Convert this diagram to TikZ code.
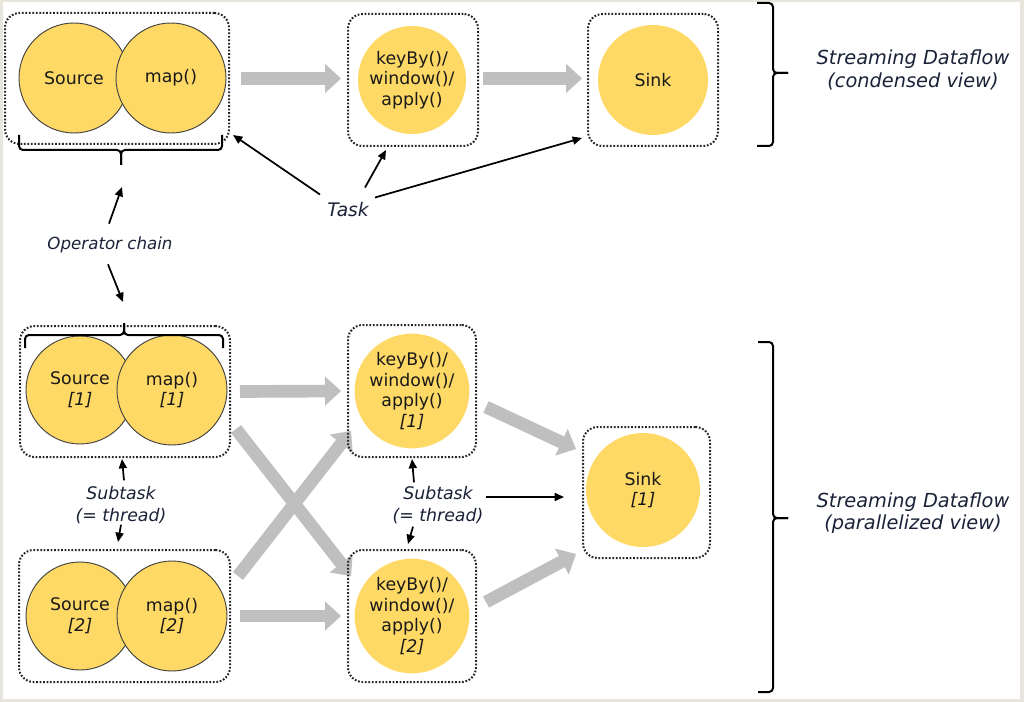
\documentclass[tikz,border=0pt]{standalone}
\usepackage{fontspec}
\setmainfont{DejaVu Sans}
\usetikzlibrary{arrows.meta,calc,fit,backgrounds}
\definecolor{opfill}{HTML}{FFD966}
\definecolor{arrgray}{HTML}{BFBFBF}
\definecolor{lbl}{HTML}{1A2238}
\definecolor{framecol}{HTML}{E8E5DC}
\newcommand\flowarr[2]{%
 \coordinate (fs) at #1; \coordinate (fe) at #2;
 \coordinate (fb) at ($(fe)!12pt!(fs)$);
 \draw[arrgray, line width=9.5pt] (fs) -- ($(fb)!-0.5pt!(fs)$);
 \fill[arrgray] (fe) -- ($(fb)!11pt!90:(fe)$) -- ($(fb)!11pt!-90:(fe)$) -- cycle;
}
\begin{document}
\begin{tikzpicture}[x=0.75pt,y=-0.75pt,
 grp/.style={draw=black!85, line width=1.5pt, dash pattern=on 1.3pt off 1.3pt, rounded corners=11pt, inner sep=0pt},
 opc/.style={circle, fill=opfill, draw=black!75, line width=0.7pt, inner sep=0pt, align=center, font=\fontsize{13}{15.5}\selectfont, text=black!90},
 op/.style={circle, fill=opfill, inner sep=0pt, align=center, font=\fontsize{13}{15.5}\selectfont, text=black!90},
 lab/.style={align=center, text=lbl, inner sep=0pt},
 conn/.style={line width=1.3pt, -{Triangle[length=7pt,width=6pt]}},
 brc/.style={line width=1.5pt, rounded corners=3pt},
]
\begin{scope}[on background layer]
\fill[framecol] (0,0) rectangle (1024,702);
\fill[white] (3,2) rectangle (1020,699);
\end{scope}
\useasboundingbox (0,0) rectangle (1024,702);

% ---------- condensed view ----------
\node[opc, minimum size=82.5pt] (src) at (74,78) {Source};
\node[opc, minimum size=82.5pt] (map) at (171,78) {map()};
\node[op, minimum size=81pt] (kb) at (412,80) {keyBy()/\\window()/\\apply()};
\node[op, minimum size=82.5pt] (snk) at (653,80) {Sink};
\node[grp, fit={(5,13) (229,144)}] (g1) {};
\node[grp, fit={(348,14) (478,146)}] (g2) {};
\node[grp, fit={(588,14) (718,146)}] (g3) {};

% ---------- parallelized view ----------
\node[opc, minimum size=81pt] (src1) at (80,390) {Source\\\textit{[1]}};
\node[opc, minimum size=82.5pt] (map1) at (172,390) {map()\\\textit{[1]}};
\node[opc, minimum size=81pt] (src2) at (80,616) {Source\\\textit{[2]}};
\node[opc, minimum size=82.5pt] (map2) at (172,616) {map()\\\textit{[2]}};
\node[op, minimum size=84pt] (k1) at (412,391) {keyBy()/\\window()/\\apply()\\\textit{[1]}};
\node[op, minimum size=84pt] (k2) at (412,616) {keyBy()/\\window()/\\apply()\\\textit{[2]}};
\node[op, minimum size=85.5pt] (s1) at (643,490) {Sink\\\textit{[1]}};
\node[grp, fit={(20,326) (230,457)}] (b1) {};
\node[grp, fit={(19,550) (230,682)}] (b2) {};
\node[grp, fit={(348,325) (476,457)}] (kb1) {};
\node[grp, fit={(348,550) (476,682)}] (kb2) {};
\node[grp, fit={(583,427) (710,558)}] (sb) {};

% ---------- gray data flows ----------
\begin{scope}[on background layer]
\flowarr{($(g1.east)+(11,0)$)}{($(g1.east -| g2.west)+(-6,0)$)}
\flowarr{($(g1.east -| g2.east)+(4,0)$)}{($(g1.east -| g3.west)+(-5,0)$)}
\flowarr{($(b1.east)+(9,0)$)}{($(kb1.west)+(-6,0)$)}
\flowarr{($(b2.east)+(9,0)$)}{($(kb2.west)+(-6,0)$)}
\flowarr{($(b1.south east)+(5,-29)$)}{($(kb2.north west)+(4,27)$)}
\flowarr{($(b2.north east)+(7,27)$)}{($(kb1.south west)+(4,-27)$)}
\flowarr{($(kb1.east)+(9,16)$)}{($(sb.north west)+(-6,23)$)}
\flowarr{($(kb2.east)+(9,-14)$)}{($(sb.south west)+(-6,-5)$)}
\end{scope}

% ---------- braces ----------
\coordinate (bt1) at (121,165);
\coordinate (bt2) at (124,323);
\draw[brc] (19,135) -- (19,150) -- (121,150) -- (bt1);
\draw[brc] (222,135) -- (222,150) -- (121,150) -- (bt1);
\draw[brc] (25,348) -- (25,335) -- (124,335) -- (bt2);
\draw[brc] (223,348) -- (223,335) -- (124,335) -- (bt2);
\draw[brc] (757,3) -- (773,3) -- (773,73) -- (788,73);
\draw[brc] (757,146) -- (773,146) -- (773,73) -- (788,73);
\draw[brc] (758,342) -- (773,342) -- (773,518) -- (788,518);
\draw[brc] (758,692) -- (773,692) -- (773,518) -- (788,518);

% ---------- labels ----------
\node[lab, font=\fontsize{14}{17}\selectfont\itshape] (task) at (348,210) {Task};
\node[lab, font=\fontsize{12.5}{14}\selectfont\itshape] (oc) at (110,245) {Operator chain};
\node[lab, font=\fontsize{13}{16}\selectfont\itshape] (st1) at (121,505) {Subtask\\(= thread)};
\node[lab, font=\fontsize{13}{16}\selectfont\itshape] (st2) at (438,505) {Subtask\\(= thread)};
\node[lab, font=\fontsize{14.5}{17}\selectfont\itshape] (sd1) at (913,70) {Streaming Dataflow\\(condensed view)};
\node[lab, font=\fontsize{14.5}{17}\selectfont\itshape] (sd2) at (913,513) {Streaming Dataflow\\(parallelized view)};

% ---------- pointers ----------
\draw[conn] ($(task.north)+(-28,-8)$) -- ($(g1.south east)+(3,-10)$);
\draw[conn] ($(task.north)+(17,-15)$) -- ($(g2.south)+(-27,3)$);
\draw[conn] ($(task.north)+(27,-5)$) -- ($(g3.south west)+(-5,-9)$);
\draw[conn] ($(oc.north)+(-1,-13)$) -- ($(bt1)+(1,22)$);
\draw[conn] ($(oc.south)+(-2,11)$) -- ($(bt2)+(-1,-21)$);
\draw[conn] ($(st1.north)+(3,-6)$) -- ($(b1.south)+(-3,1)$);
\draw[conn] ($(st1.south)+(0,1)$) -- ($(b2.north)+(-6.5,-7)$);
\draw[conn] ($(st2.north)+(-24,-4)$) -- ($(kb1.south)+(0,1)$);
\draw[conn] ($(st2.south)+(-25,3)$) -- ($(kb2.north)+(-4,-5)$);
\draw[conn] ($(st2.east)+(2,-8)$) coordinate (q) -- ($(q -| sb.west)+(-18,0)$);
\end{tikzpicture}
\end{document}
